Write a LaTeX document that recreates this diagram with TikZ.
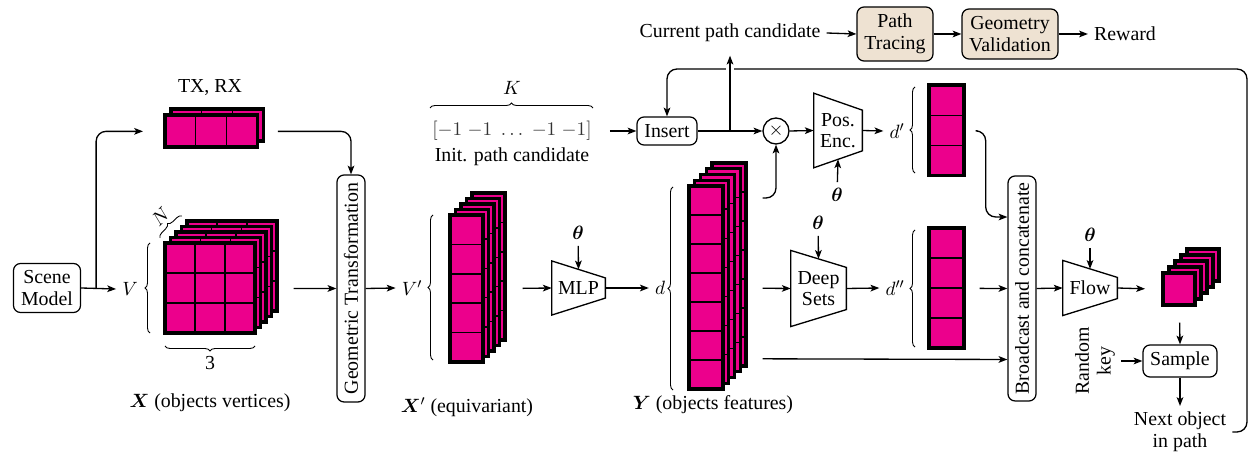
\documentclass[tikz,border=0pt]{standalone}
\usepackage{amsmath}
\usepackage{bm}
\usepackage{fontspec}
\setmainfont{Liberation Serif}
\usetikzlibrary{arrows.meta,calc,decorations.pathreplacing}

\definecolor{tenscol}{HTML}{EC008C}
\definecolor{simcol}{HTML}{EEE2D2}

\tikzstyle{blk} = [rectangle, rounded corners=1.4mm, draw=black, line width=0.7pt, align=center, inner sep=1pt]
\tikzstyle{sim} = [blk, fill=simcol]
\tikzstyle{net} = [rectangle, inner sep=0pt, align=center]
\tikzstyle{brc} = [decorate, decoration={brace, amplitude=1mm}, line width=0.5pt]
\tikzstyle{wire} = [->, line width=0.75pt]
\tikzstyle{cellline} = [line width=0.85pt]

% trapezoid round a network node
\newcommand{\trapnet}[1]{\draw[line width=0.75pt] ([yshift=1.7mm]#1.north west) -- ([yshift=-1.7mm]#1.south west) -- ([yshift=1.7mm]#1.south east) -- ([yshift=-1.7mm]#1.north east) -- cycle;}

% name, x, y (front top left), cols, rows, cell w, cell h, layers, layer shift
\newcommand{\tensorstack}[9]{
  \pgfmathtruncatemacro{\toplayer}{#8-1}
  \foreach \lay in {\toplayer,...,0}{
    \begin{scope}[shift={(\lay*#9,-\lay*#9)}]
      \fill[tenscol] (#2,#3) rectangle ++({#4*#6},{#5*#7});
      \ifnum#4>1 \foreach \c in {2,...,#4} \draw[cellline] ({#2+(\c-1)*#6},#3) -- ++(0,{#5*#7}); \fi
      \ifnum#5>1 \foreach \r in {2,...,#5} \draw[cellline] (#2,{#3+(\r-1)*#7}) -- ++({#4*#6},0); \fi
      \draw[line width=1.8pt] (#2,#3) rectangle ++({#4*#6},{#5*#7});
    \end{scope}
  }
  \node[inner sep=0pt, minimum width={#4*#6*0.2mm}, minimum height={#5*#7*0.2mm}, anchor=north west] (#1) at (#2,#3) {};
}

\begin{document}
\begin{tikzpicture}[x=0.02cm, y=-0.02cm, >={Stealth[length=5pt,width=3.8pt,inset=1.2pt]}, font=\fontsize{11.3}{12.3}\selectfont]
\useasboundingbox (0,0) rectangle (1250,455);

% scene and inputs
\node[blk, minimum width=13.4mm, minimum height=9.8mm] (scene) at (47,288) {Scene\\Model};
\tensorstack{tx}{165}{115}{3}{1}{30.7}{32}{2}{6}
\node (txl) at (210,88) {TX, RX};
\tensorstack{X}{165}{243}{3}{3}{30}{30}{5}{5.5}
\node (Vl) at (130,289) {$V$};
\draw[brc] (150,333) -- (150,243);
\draw[brc] (255,346) -- (165,346);
\draw[brc] (160,238) -- node[sloped, above=1pt] (Nl) {$N$} (182,216);
\node (threel) at (210,363) {3};
\node (Xl) at (210,403) {$\bm{X}$ (objects vertices)};

\node[blk, rotate=90, minimum width=45.4mm, minimum height=5.6mm] (gt) at (351,288.5) {Geometric Transformation};

% equivariant vertices
\tensorstack{Xp}{450}{215}{1}{5}{33}{29.4}{5}{5.5}
\node (Vpl) at (412,288) {$V'$};
\draw[brc] (433,360) -- (433,215);
\node (Xpl) at (467,407) {$\bm{X}'$ (equivariant)};

\node[net, minimum width=10.6mm, minimum height=7.3mm] (mlp) at (578.5,288) {MLP};
\trapnet{mlp}
\node (th1) at (578,233) {$\bm{\theta}$};

% object features
\tensorstack{Y}{689}{186}{1}{7}{34}{29}{5}{5.75}
\node (dl) at (660,288) {$d$};
\draw[brc] (673,390) -- (673,187);
\node (Yl) at (713,405) {$\bm{Y}$ (objects features)};

% path candidate
\draw[brc] (430,108) -- (593,108);
\node (Kl) at (512,88) {$K$};
\node[text=black!80] (init) at (512,131) {$[{-1}\;{-1}\;\ldots\;{-1}\;{-1}]$};
\node (initl) at (512,157) {Init. path candidate};
\node[blk, minimum width=12mm, minimum height=5.6mm] (insert) at (667,131) {Insert};
\node[circle, draw, line width=0.75pt, minimum size=5.2mm, inner sep=0pt] (mult) at (776,131) {$\times$};
\node[net, minimum width=9.6mm, minimum height=11.4mm] (pos) at (838,130.5) {Pos.\\Enc.};
\trapnet{pos}
\node (th2) at (837,195) {$\bm{\theta}$};

\node (cur) at (730,33) {Current path candidate};
\node[sim, minimum width=15.2mm, minimum height=10.8mm] (trace) at (895,34) {Path\\Tracing};
\node[sim, minimum width=19.2mm, minimum height=10mm] (geo) at (1010,34) {Geometry\\Validation};
\node (rew) at (1125,34) {Reward};

\tensorstack{dp}{929}{85}{1}{3}{35}{30.3}{1}{0}
\node (dpl) at (897,131) {$d'$};
\draw[brc] (915,173) -- (915,87);

\node[net, minimum width=11mm, minimum height=11.7mm] (deep) at (818.5,288.5) {Deep\\Sets};
\trapnet{deep}
\node (th3) at (818,223) {$\bm{\theta}$};
\tensorstack{dpp}{929}{228}{1}{4}{35}{30}{1}{0}
\node (dppl) at (895,288) {$d''$};
\draw[brc] (915,347) -- (915,230);

% output
\node[blk, rotate=90, minimum width=45mm, minimum height=5.6mm] (bc) at (1022,288.5) {Broadcast and concatenate};
\node[net, minimum width=10.8mm, minimum height=7.5mm] (flow) at (1090,288) {Flow};
\trapnet{flow}
\node (th4) at (1090,235) {$\bm{\theta}$};
\tensorstack{out}{1163}{273}{1}{1}{32}{32}{5}{6}
\node[blk, minimum width=14.8mm, minimum height=6.4mm] (sample) at (1180,361) {Sample};
\node[rotate=90, align=center] (rk) at (1095,361) {Random\\key};
\node[align=center] (next) at (1180,432) {Next object\\in path};
\coordinate (loop) at (1247,69);

% connectors
\draw[wire] (scene.east) -- (Vl.west);
\draw[wire, rounded corners=2mm] ($(scene.east)+(15,0)$) |- ([xshift=-4.4mm]tx.west);
\draw[wire, rounded corners=2mm, shorten <=4mm] (tx.east) -| (gt.east);
\draw[wire, shorten <=7.6mm] (X.east) -- (gt.north);
\draw[wire] (gt.south) -- (Vpl.west);
\draw[wire, shorten <=7.8mm] (Xp.east) -- (mlp.west);
\draw[wire] (th1) -- (mlp.north);
\draw[wire] (mlp.east) -- (dl.west);
\draw[wire, rounded corners=2mm] ([xshift=7.8mm,yshift=-2.4mm]Y.north east) -| (mult.south);
\draw[wire, shorten <=7.8mm] (Y.east) -- (deep.west);
\draw[wire] ([xshift=7.8mm,yshift=-14.2mm]Y.east) -- ([yshift=-14.2mm]bc.north);
\draw[wire] (th3) -- (deep.north);
\draw[wire] (deep.east) -- (dppl.west);

\draw[wire, rounded corners=2mm] (next.east) -| (loop) -| (insert.north);
\draw[wire, shorten >=1.5mm, preaction={draw=white, line width=5pt, -}] (cur.south |- insert.east) -- (cur.south);
\draw[wire, shorten <=2.4mm] (init.east) -- (insert.west);
\draw (insert.east) edge[wire] (mult.west);
\draw[wire] (mult.east) -- (pos.west);
\draw[wire] (th2) -- (pos.south);
\draw[wire] (pos.east) -- (dpl.west);
\draw[wire] (cur.east) -- (trace.west);
\draw[wire] (trace.east) -- (geo.west);
\draw[wire] (geo.east) -- (rew.west);

\draw[wire, rounded corners=2mm, shorten <=2.6mm] (dp.east) -- ++(21,0) |- ([yshift=14.3mm]bc.north);
\draw[wire, shorten <=3mm] (dpp.east) -- (bc.north);
\draw[wire] (bc.south) -- (flow.west);
\draw[wire] (th4) -- (flow.north);
\draw[wire, shorten >=3.6mm] (flow.east) -- (out.west);
\draw[wire, shorten <=3.4mm] (out.south) -- (sample.north);
\draw[wire] (rk.south) -- (sample.west);
\draw[wire] (sample.south) -- (next.north);
\end{tikzpicture}
\end{document}
